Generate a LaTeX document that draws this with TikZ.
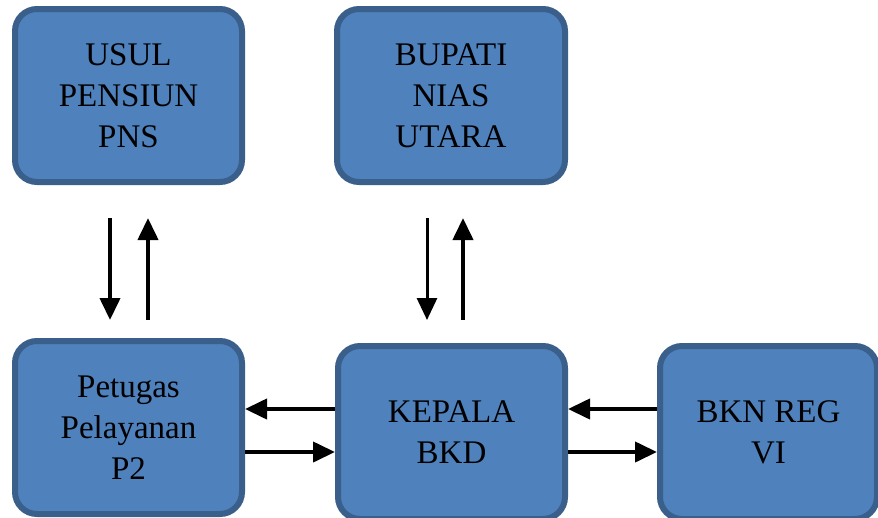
\documentclass[tikz,border=0pt]{standalone}
\usepackage{fontspec}
\setmainfont{Liberation Serif}
\usetikzlibrary{arrows.meta}
\definecolor{isibiru}{HTML}{4F81BD}
\definecolor{tepibiru}{HTML}{3A5F8B}
\begin{document}
\begin{tikzpicture}[x=1pt,y=-1pt,
  kotak/.style={draw=tepibiru,fill=isibiru,line width=6pt,rounded corners=22pt,
    minimum width=227pt,minimum height=173pt,inner sep=0pt,align=center,
    font=\fontsize{33}{41}\selectfont},
  panah/.style={line width=4pt,-{Triangle[width=20pt,length=22pt]}}]
\clip (0,0) rectangle (878,517);
%\draw[step=50pt,gray,very thin] (0,0) grid (878,517); %background grid
\node[kotak] (usul) at (128.5,95.5) {USUL\\PENSIUN\\PNS};
\node[kotak,minimum width=228pt] (bupati) at (451,95.5) {BUPATI\\NIAS\\UTARA};
\node[kotak] (petugas) at (128.5,427.5) {Petugas\\Pelayanan\\P2};
\node[kotak] (kepala) at (451.5,432.5) {KEPALA\\BKD};
\node[kotak,minimum width=217pt] (bkn) at (768.5,432.5) {BKN REG\\VI};
% naik turun
\draw[panah,shorten <=33pt,shorten >=18pt] ([xshift=-18.5pt]usul.south) -- ([xshift=-18.5pt]usul.south |- petugas.north);
\draw[panah,shorten <=18pt,shorten >=33pt] ([xshift=19.5pt]usul.south |- petugas.north) -- ([xshift=19.5pt]usul.south);
\draw[panah,line width=3pt,shorten <=33pt,shorten >=23pt] ([xshift=-24pt]bupati.south) -- ([xshift=-24pt]bupati.south |- kepala.north);
\draw[panah,shorten <=23pt,shorten >=33pt] ([xshift=12pt]bupati.south |- kepala.north) -- ([xshift=12pt]bupati.south);
% kiri kanan
\draw[panah] ([yshift=23.5pt]kepala.west) -- ([yshift=23.5pt]kepala.west -| petugas.east);
\draw[panah] ([yshift=-19.5pt]kepala.west -| petugas.east) -- ([yshift=-19.5pt]kepala.west);
\draw[panah] ([yshift=23.5pt]bkn.west) -- ([yshift=23.5pt]bkn.west -| kepala.east);
\draw[panah] ([yshift=-19.5pt]bkn.west -| kepala.east) -- ([yshift=-19.5pt]bkn.west);
\end{tikzpicture}
\end{document}
